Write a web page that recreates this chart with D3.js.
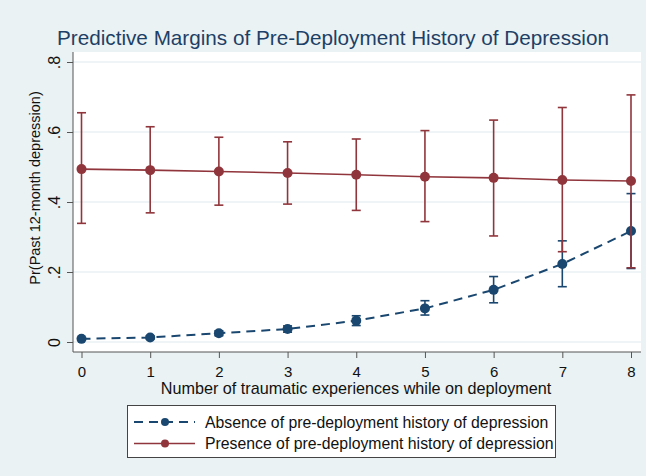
<!DOCTYPE html>
<html>
<head>
<meta charset="utf-8">
<script src="https://cdn.jsdelivr.net/npm/d3@7"></script>
<style>
  html, body { margin: 0; padding: 0; background: #eaf2f3; }
  svg { display: block; font-family: "Liberation Sans", Arial, sans-serif; }
</style>
</head>
<body>
<div id="chart"></div>
<script>
// traumatic experiences (x)
const experiences = [0, 1, 2, 3, 4, 5, 6, 7, 8];

// presence of pre-deployment history of depression
const presence   = [0.494, 0.491, 0.487, 0.483, 0.478, 0.472, 0.469, 0.463, 0.460];
const presenceLo = [0.339, 0.369, 0.391, 0.394, 0.376, 0.344, 0.303, 0.258, 0.212];
const presenceHi = [0.655, 0.615, 0.585, 0.572, 0.580, 0.604, 0.634, 0.670, 0.706];

// absence of pre-deployment history of depression
const absence   = [0.009, 0.013, 0.025, 0.037, 0.061, 0.096, 0.149, 0.223, 0.317];
const absenceLo = [0.006, 0.009, 0.018, 0.028, 0.047, 0.077, 0.112, 0.158, 0.210];
const absenceHi = [0.012, 0.017, 0.032, 0.046, 0.075, 0.118, 0.187, 0.289, 0.424];

const yTicks = [0, 0.2, 0.4, 0.6, 0.8];
const yTickLabels = ["0", ".2", ".4", ".6", ".8"];

const titleText = "Predictive Margins of Pre-Deployment History of Depression";
const xTitle = "Number of traumatic experiences while on deployment";
const yTitle = "Pr(Past 12-month depression)";
const legendLabels = ["Absence of pre-deployment history of depression", "Presence of pre-deployment history of depression"];

const W = 646, H = 476;
const navy = "#1a476f", maroon = "#90353b";

const svg = d3.select("#chart").append("svg")
  .attr("width", W).attr("height", H);

svg.append("rect").attr("width", W).attr("height", H).attr("fill", "#eaf2f3");

// plot region
const plot = { left: 73, right: 641, top: 52, bottom: 352 };
svg.append("rect")
  .attr("x", plot.left).attr("y", plot.top)
  .attr("width", plot.right - plot.left).attr("height", plot.bottom - plot.top)
  .attr("fill", "#ffffff");

const x = d3.scaleLinear().domain([0, 8]).range([81.5, 631]);
const y = d3.scaleLinear().domain([0, 0.8]).range([342, 62]);

// gridlines
svg.append("g").selectAll("line")
  .data(yTicks)
  .enter().append("line")
  .attr("x1", plot.left).attr("x2", plot.right)
  .attr("y1", d => y(d)).attr("y2", d => y(d))
  .attr("stroke", "#eaf2f3").attr("stroke-width", 1.5);

// title
svg.append("text")
  .attr("x", 333).attr("y", 45)
  .attr("text-anchor", "middle")
  .attr("font-size", 20.7)
  .attr("fill", "#1e3f66")
  .text(titleText);

// y axis
const yAxis = svg.append("g")
  .attr("transform", `translate(${plot.left},0)`)
  .call(d3.axisLeft(y).tickValues(yTicks).tickSize(6).tickFormat((d, i) => yTickLabels[i]));
yAxis.select(".domain").attr("d", `M0,${plot.top}V${plot.bottom}`).attr("stroke", "#555");
yAxis.selectAll(".tick line").attr("stroke", "#555");
yAxis.selectAll(".tick text")
  .attr("font-size", 16).attr("fill", "#111")
  .attr("transform", "rotate(-90)")
  .attr("x", 0).attr("y", -13).attr("dy", 0)
  .attr("text-anchor", "middle");

// x axis
const xAxis = svg.append("g")
  .attr("transform", `translate(0,${plot.bottom})`)
  .call(d3.axisBottom(x).tickValues(experiences).tickSize(6).tickFormat(d3.format("d")));
xAxis.select(".domain").attr("d", `M${plot.left},0H${plot.right}`).attr("stroke", "#555");
xAxis.selectAll(".tick line").attr("stroke", "#555");
xAxis.selectAll(".tick text")
  .attr("font-size", 15).attr("fill", "#111")
  .attr("y", 24.5).attr("dy", 0);

// axis titles
svg.append("text")
  .attr("x", 356).attr("y", 393.5)
  .attr("text-anchor", "middle")
  .attr("font-size", 16.2).attr("fill", "#111")
  .text(xTitle);

svg.append("text")
  .attr("transform", "translate(40,188) rotate(-90)")
  .attr("text-anchor", "middle")
  .attr("font-size", 14.5).attr("fill", "#111")
  .text(yTitle);

// series
const series = [
  { key: "absence", mean: absence, lo: absenceLo, hi: absenceHi, color: navy, dash: "9,6", width: 2 },
  { key: "presence", mean: presence, lo: presenceLo, hi: presenceHi, color: maroon, dash: null, width: 1.6 }
];

const line = d3.line().x(d => x(d.x)).y(d => y(d.v));

series.forEach(s => {
  const pts = experiences.map((e, i) => ({ x: e, v: s.mean[i], lo: s.lo[i], hi: s.hi[i] }));
  const g = svg.append("g").attr("class", s.key);

  // error bars
  g.selectAll("line.bar")
    .data(pts).enter().append("line")
    .attr("class", "bar")
    .attr("x1", d => x(d.x)).attr("x2", d => x(d.x))
    .attr("y1", d => y(d.lo)).attr("y2", d => y(d.hi))
    .attr("stroke", s.color).attr("stroke-width", 1.6);
  ["lo", "hi"].forEach(k => {
    g.selectAll("line.cap-" + k)
      .data(pts).enter().append("line")
      .attr("class", "cap-" + k)
      .attr("x1", d => x(d.x) - 4.5).attr("x2", d => x(d.x) + 4.5)
      .attr("y1", d => y(d[k])).attr("y2", d => y(d[k]))
      .attr("stroke", s.color).attr("stroke-width", 1.6);
  });

  g.append("path")
    .datum(pts)
    .attr("d", line)
    .attr("fill", "none")
    .attr("stroke", s.color)
    .attr("stroke-width", s.width)
    .attr("stroke-dasharray", s.dash);

  g.selectAll("circle")
    .data(pts).enter().append("circle")
    .attr("cx", d => x(d.x)).attr("cy", d => y(d.v))
    .attr("r", 5)
    .attr("fill", s.color);
});

// legend
const legend = svg.append("g");
legend.append("rect")
  .attr("x", 127.5).attr("y", 405.5)
  .attr("width", 428).attr("height", 52)
  .attr("fill", "#ffffff").attr("stroke", "#444").attr("stroke-width", 1);

series.forEach((s, i) => {
  const ly = 422 + i * 21.5;
  legend.append("line")
    .attr("x1", 134).attr("x2", 195)
    .attr("y1", ly).attr("y2", ly)
    .attr("stroke", s.color).attr("stroke-width", s.width)
    .attr("stroke-dasharray", s.dash);
  legend.append("circle")
    .attr("cx", 165).attr("cy", ly).attr("r", 4)
    .attr("fill", s.color);
  legend.append("text")
    .attr("x", 205).attr("y", ly + 5.5)
    .attr("font-size", 15.8).attr("fill", "#111")
    .text(legendLabels[i]);
});
</script>
</body>
</html>
